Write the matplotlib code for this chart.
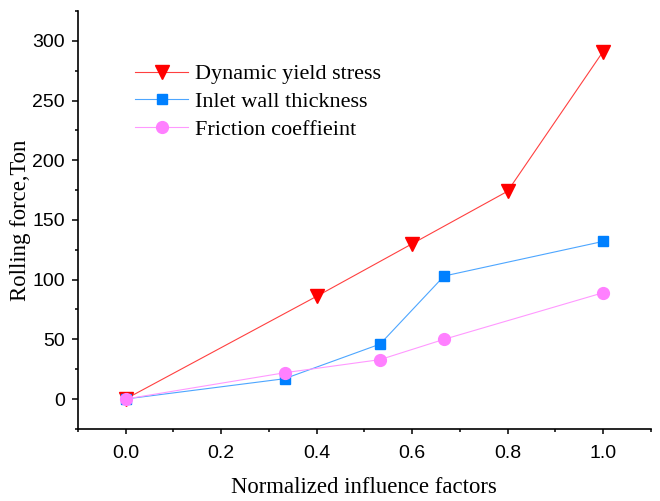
import matplotlib
matplotlib.use("Agg")
import matplotlib.pyplot as plt
from matplotlib.ticker import MultipleLocator

# Data
x_yield = [0.0, 0.4, 0.6, 0.8, 1.0]
y_yield = [0, 86, 130, 174, 291]
x_inlet = [0.0, 0.333, 0.533, 0.667, 1.0]
y_inlet = [0, 17, 46, 103, 132]
x_fric = [0.0, 0.333, 0.533, 0.667, 1.0]
y_fric = [0, 22, 33, 50, 89]
labels = ["Dynamic yield stress", "Inlet wall thickness", "Friction coeffieint"]

fig = plt.figure(figsize=(6.6, 5.01), dpi=100)
ax = fig.add_axes([0.118, 0.144, 0.868, 0.834])

ax.plot(x_yield, y_yield, color="#FF4040", lw=0.8, marker="v", ms=9.5,
        mfc="#FF0000", mec="#FF0000", label=labels[0])
ax.plot(x_inlet, y_inlet, color="#4DA6FF", lw=0.8, marker="s", ms=7,
        mfc="#0080FF", mec="#0080FF", label=labels[1])
ax.plot(x_fric, y_fric, color="#FF99FF", lw=0.8, marker="o", ms=8.5,
        mfc="#FF80FF", mec="#FF80FF", label=labels[2])

ax.set_xlim(-0.1, 1.1)
ax.set_ylim(-25, 325)
ax.xaxis.set_major_locator(MultipleLocator(0.2))
ax.xaxis.set_minor_locator(MultipleLocator(0.1))
ax.yaxis.set_major_locator(MultipleLocator(50))
ax.yaxis.set_minor_locator(MultipleLocator(25))
ax.set_xticks([0.0, 0.2, 0.4, 0.6, 0.8, 1.0])
ax.set_xticklabels(["0.0", "0.2", "0.4", "0.6", "0.8", "1.0"])
ax.set_yticks([0, 50, 100, 150, 200, 250, 300])

for s in ["top", "right"]:
    ax.spines[s].set_visible(False)
for s in ["left", "bottom"]:
    ax.spines[s].set_linewidth(1.2)

ax.tick_params(axis="y", which="major", direction="out", length=4.5, width=1.1,
               labelsize=14, pad=5)
ax.tick_params(axis="y", which="minor", direction="out", length=2.5, width=1.1)
ax.tick_params(axis="x", which="major", direction="out", length=3.5, width=1.1,
               labelsize=14, pad=8)
ax.tick_params(axis="x", which="minor", direction="out", length=2.5, width=1.1)
for lab in ax.get_xticklabels() + ax.get_yticklabels():
    lab.set_fontfamily("Liberation Sans")

ax.set_xlabel("Normalized influence factors", fontfamily="Liberation Serif",
              fontsize=16.4, labelpad=11)
ax.set_ylabel("Rolling force,Ton", fontfamily="Liberation Serif",
              fontsize=16.4, labelpad=1)

leg = ax.legend(loc="upper left", bbox_to_anchor=(0.085, 0.895), frameon=False,
                prop={"family": "Liberation Serif", "size": 16},
                handlelength=2.35, handletextpad=0.33, labelspacing=0.32,
                borderaxespad=0)

fig.savefig("out.png", dpi=100)
